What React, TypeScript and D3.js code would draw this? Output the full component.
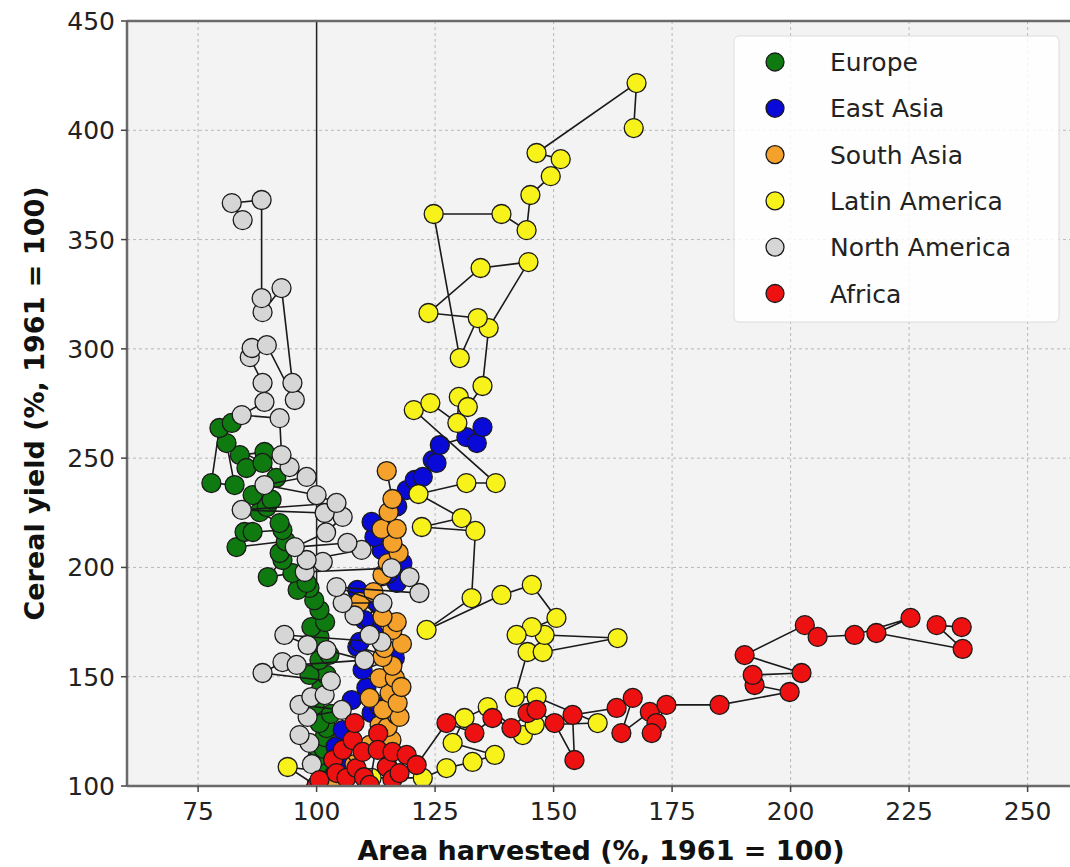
import React from 'react';
import * as d3 from 'd3';

// [area harvested, cereal yield], both % of 1961
const europe: [number, number][] = [
  [100, 100], [101.3, 110.5], [100.2, 113.3], [101.5, 117.0], [101.7, 122.4], [102.1, 126.5],
  [100.6, 128.8], [103.0, 133.0], [99.6, 137.1], [101.0, 145.0], [102.1, 150.8], [98.5, 150.8],
  [100.6, 157.6], [102.7, 160.0], [100.6, 168.2], [98.9, 172.7], [101.8, 175.0], [100.6, 180.5],
  [99.5, 185.0], [98.5, 190.6], [96.0, 189.7], [97.9, 192.9], [94.9, 197.4], [89.7, 195.6],
  [92.8, 203.4], [92.2, 206.6], [93.5, 212.0], [83.1, 209.3], [84.8, 216.2], [86.5, 216.2],
  [92.8, 217.1], [92.2, 220.3], [88.0, 225.3], [89.5, 227.6], [90.5, 231.0], [86.5, 233.1],
  [91.5, 241.0], [89.0, 252.8], [83.8, 251.4], [85.2, 245.5], [88.6, 247.8], [81.0, 256.9],
  [82.7, 237.7], [77.8, 238.6], [79.5, 263.8], [82.1, 266.1],
];

const eastAsia: [number, number][] = [
  [100, 100], [104.9, 110.5], [104.0, 118.0], [105.5, 125.6], [111.6, 133.4], [113.3, 136.1],
  [107.4, 139.3], [110.5, 145.0], [109.7, 153.1], [116.5, 158.6], [108.6, 163.6], [109.1, 165.9],
  [112.0, 170.0], [110.1, 175.9], [113.0, 183.0], [108.6, 189.7], [116.9, 192.9], [115.0, 197.0],
  [118.1, 202.0], [113.7, 208.0], [112.2, 213.9], [111.6, 220.8], [117.0, 228.0], [119.0, 235.4],
  [120.7, 240.0], [122.4, 241.4], [124.5, 249.1], [125.3, 247.8], [126.0, 256.0], [131.6, 259.6],
  [133.8, 256.9], [135.0, 264.2],
];

const southAsia: [number, number][] = [
  [100, 100], [103.8, 102.7], [108.0, 110.0], [111.2, 118.8], [115.8, 121.0], [113.3, 127.9],
  [115.0, 127.0], [116.9, 132.5], [117.5, 131.6], [114.0, 135.0], [111.2, 140.3], [115.4, 142.5],
  [117.1, 138.0], [113.3, 149.4], [116.5, 149.4], [117.9, 145.3], [116.0, 155.0], [113.9, 159.0],
  [114.3, 163.1], [118.0, 165.0], [116.0, 171.4], [116.9, 175.0], [113.9, 177.3], [109.1, 184.2],
  [112.0, 188.7], [113.9, 196.5], [115.0, 202.0], [117.3, 206.6], [116.0, 211.2], [113.7, 217.6],
  [116.9, 217.6], [115.2, 225.3], [116.0, 231.3], [114.8, 244.1],
];

const latinAmerica: [number, number][] = [
  [100, 100], [93.9, 108.7], [111.6, 103.7], [122.4, 103.7], [127.4, 108.2], [132.9, 111.0],
  [137.6, 114.2], [128.7, 119.7], [131.2, 131.1], [136.1, 136.1], [143.5, 123.3], [146.0, 127.9],
  [159.3, 128.8], [146.4, 140.7], [141.8, 140.7], [144.5, 161.3], [147.7, 161.3], [163.5, 167.7],
  [148.1, 169.1], [145.4, 172.7], [142.2, 169.1], [150.6, 176.9], [145.4, 192.0], [139.0, 187.4],
  [123.2, 171.4], [132.7, 186.0], [133.5, 216.7], [122.2, 218.5], [130.6, 222.6], [121.5, 233.6],
  [131.6, 238.6], [137.8, 238.6], [120.5, 272.0], [124.0, 275.2], [129.7, 266.1], [130.0, 278.0],
  [131.9, 273.4], [135.0, 283.0], [136.3, 309.5], [144.7, 339.7], [134.6, 337.0], [123.6, 316.4],
  [134.0, 314.1], [130.2, 295.8], [124.7, 361.7], [139.0, 361.7], [144.3, 354.3], [145.1, 370.4],
  [149.4, 379.0], [151.5, 386.8], [146.4, 389.6], [167.5, 421.6], [166.9, 401.0],
];

const northAmerica: [number, number][] = [
  [100, 100], [99.0, 110.0], [98.5, 119.7], [96.4, 123.3], [98.1, 131.6], [105.3, 134.8],
  [96.4, 137.1], [98.9, 140.7], [101.7, 141.6], [103.0, 148.0], [88.6, 151.7], [92.8, 156.7],
  [95.8, 155.4], [110.1, 157.6], [102.1, 162.2], [98.1, 164.5], [93.2, 169.1], [113.7, 165.9],
  [111.2, 169.1], [108.0, 178.0], [105.5, 183.7], [113.9, 183.7], [104.2, 191.0], [121.7, 188.3],
  [119.6, 195.6], [115.8, 199.7], [97.5, 197.9], [101.3, 202.5], [97.9, 203.4], [109.5, 208.0],
  [106.5, 211.2], [95.4, 209.3], [102.0, 216.0], [105.5, 223.1], [101.7, 224.9], [84.2, 226.3],
  [104.2, 229.5], [100.0, 233.1], [89.0, 237.7], [97.9, 241.4], [94.3, 245.9], [92.6, 251.4],
  [92.2, 268.3], [84.2, 269.7], [89.0, 275.7], [88.6, 284.4], [85.9, 296.2], [86.3, 300.4],
  [89.5, 301.7], [95.4, 276.6], [94.9, 284.4], [92.6, 327.8], [88.6, 316.8], [88.4, 323.2],
  [88.4, 368.1], [82.1, 366.7], [84.4, 358.9],
];

const africa: [number, number][] = [
  [100, 100], [100.6, 102.7], [103.5, 112.0], [104.2, 105.9], [106.3, 103.7], [108.4, 108.2],
  [105.5, 116.5], [107.6, 121.0], [108.0, 128.8], [109.7, 115.6], [110.0, 104.0], [111.2, 100.5],
  [113.0, 124.0], [112.9, 116.5], [114.8, 108.7], [116.0, 103.0], [116.0, 115.6], [117.5, 105.9],
  [119.0, 114.2], [121.1, 109.6], [127.4, 128.8], [133.3, 124.2], [137.1, 131.1], [141.1, 126.5],
  [144.5, 133.4], [146.4, 134.8], [150.2, 128.8], [154.4, 111.9], [154.0, 132.5], [163.3, 135.7],
  [166.7, 140.3], [164.3, 124.2], [170.3, 133.9], [171.7, 128.8], [170.7, 124.2], [173.8, 137.1],
  [185.0, 137.1], [199.8, 143.0], [192.4, 146.2], [192.0, 150.8], [202.3, 151.7], [190.3, 159.9],
  [203.0, 173.6], [205.7, 168.2], [213.5, 169.1], [225.3, 176.9], [218.1, 170.0], [236.3, 162.7],
  [230.8, 173.6], [236.1, 172.7],
];

const regionNames = ['Europe', 'East Asia', 'South Asia', 'Latin America', 'North America', 'Africa'];
const regionData = [europe, eastAsia, southAsia, latinAmerica, northAmerica, africa];
const regionColors = ['#0f7a0f', '#0a0ad8', '#f5a22c', '#f7f21a', '#d6d6d6', '#ee1111'];

const xTicks = [75, 100, 125, 150, 175, 200, 225, 250];
const yTicks = [100, 150, 200, 250, 300, 350, 400, 450];

export default function App() {
  const W = 1070;
  const H = 867;
  const left = 127, right = 1075, top = 21, bottom = 786;
  const x = d3.scaleLinear().domain([60, 260]).range([left, right]);
  const y = d3.scaleLinear().domain([100, 450]).range([bottom, top]);
  const line = d3.line<[number, number]>().x(d => x(d[0])).y(d => y(d[1]));
  const font = '"DejaVu Sans", sans-serif';

  return (
    <svg width={W} height={H} style={{ position: 'absolute', left: 0, top: 0, background: '#fff' }} fontFamily={font}>
      <defs>
        <clipPath id="plot">
          <rect x={left} y={top} width={right - left} height={bottom - top} />
        </clipPath>
      </defs>
      <rect x={left} y={top} width={right - left} height={bottom - top} fill="#f3f3f3" />
      {xTicks.map(t => (
        <line key={'gx' + t} x1={x(t)} x2={x(t)} y1={top} y2={bottom} stroke="#b8b8b8" strokeDasharray="3,3" />
      ))}
      {yTicks.map(t => (
        <line key={'gy' + t} x1={left} x2={right} y1={y(t)} y2={y(t)} stroke="#b8b8b8" strokeDasharray="3,3" />
      ))}
      <line x1={x(100)} x2={x(100)} y1={top} y2={bottom} stroke="#222" strokeWidth={1.5} />
      <g clipPath="url(#plot)">
        {regionData.map((pts, i) => (
          <g key={regionNames[i]}>
            <path d={line(pts) || ''} fill="none" stroke="#1a1a1a" strokeWidth={1.6} />
            {pts.map((p, j) => (
              <circle key={j} cx={x(p[0])} cy={y(p[1])} r={9.5} fill={regionColors[i]} stroke="#1a1a1a" strokeWidth={1.3} />
            ))}
          </g>
        ))}
      </g>
      {/* spines */}
      <line x1={left} x2={left} y1={top} y2={bottom} stroke="#6a6a6a" strokeWidth={2.5} />
      <line x1={left} x2={right} y1={bottom} y2={bottom} stroke="#6a6a6a" strokeWidth={2.5} />
      <line x1={left} x2={right} y1={top} y2={top} stroke="#6a6a6a" strokeWidth={2.5} />
      {xTicks.map(t => (
        <g key={'tx' + t}>
          <line x1={x(t)} x2={x(t)} y1={bottom} y2={bottom + 6} stroke="#444" strokeWidth={1.5} />
          <text x={x(t)} y={bottom + 34} textAnchor="middle" fontSize={25} fill="#222">{t}</text>
        </g>
      ))}
      {yTicks.map(t => (
        <g key={'ty' + t}>
          <line x1={left - 6} x2={left} y1={y(t)} y2={y(t)} stroke="#444" strokeWidth={1.5} />
          <text x={left - 12} y={y(t) + 9} textAnchor="end" fontSize={25} fill="#222">{t}</text>
        </g>
      ))}
      <text x={(left + right) / 2} y={860} textAnchor="middle" fontSize={27} fontWeight="bold" fill="#111">
        Area harvested (%, 1961 = 100)
      </text>
      <text transform={`translate(44,${(top + bottom) / 2}) rotate(-90)`} textAnchor="middle" fontSize={27} fontWeight="bold" fill="#111">
        Cereal yield (%, 1961 = 100)
      </text>
      {/* legend */}
      <rect x={734} y={36} width={325} height={286} rx={5} fill="#fff" fillOpacity={0.85} stroke="#dcdcdc" />
      {regionNames.map((name, i) => (
        <g key={'lg' + name} transform={`translate(775,${62 + i * 46.3})`}>
          <circle r={9} fill={regionColors[i]} stroke="#1a1a1a" strokeWidth={1.3} />
          <text x={55} y={9} fontSize={25} fill="#222">{name}</text>
        </g>
      ))}
    </svg>
  );
}
